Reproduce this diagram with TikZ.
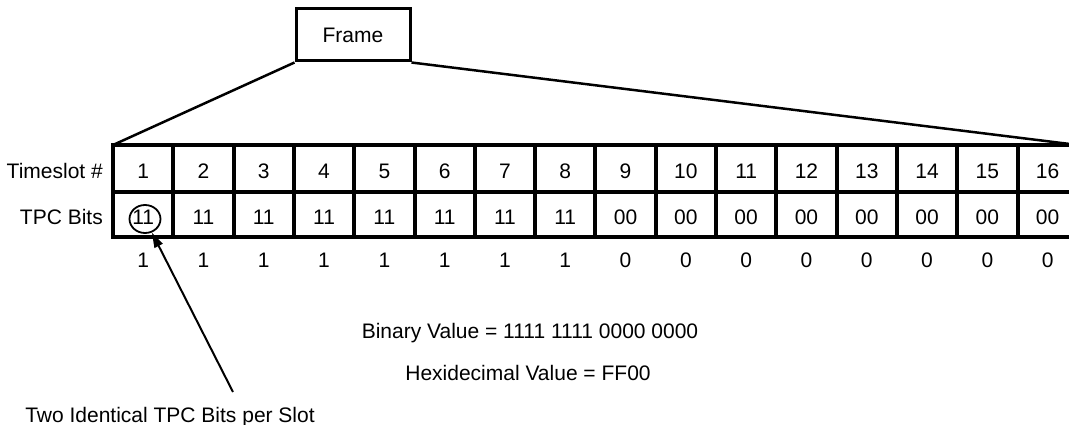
\documentclass[tikz,border=0pt]{standalone}
\usepackage{fontspec}
\setmainfont{Liberation Sans}
\usetikzlibrary{arrows.meta,positioning,shapes.geometric}

\begin{document}
\begin{tikzpicture}[x=1pt,y=-1pt,
    every node/.style={font=\fontsize{21}{25}\selectfont},
    cell/.style={draw,line width=4pt,minimum width=60.3pt,inner sep=0pt,
                 outer sep=0pt,text height=19.5pt,text depth=0pt},
    rowlabel/.style={inner sep=0pt,text height=19.5pt,text depth=0pt},
    bitval/.style={inner sep=0pt,text height=15pt,text depth=0pt}]
  \useasboundingbox (0,0) rectangle (1069,425);

  % the frame
  \node[draw,line width=3pt,minimum width=114pt,minimum height=52pt] (frame) at (353,35) {Frame};

  % timeslots of the frame
  \node[cell,minimum height=47pt] (ts1) at (143.15,168.5) {1};
  \node[cell,minimum height=45pt,below=0pt of ts1] (tpc1) {11};
  \node[bitval,below=15pt of tpc1] (val1) {1};
  \foreach \bits/\val [count=\i from 2] in {11/1,11/1,11/1,11/1,11/1,11/1,11/1,
                                            00/0,00/0,00/0,00/0,00/0,00/0,00/0,00/0} {
    \pgfmathtruncatemacro\prev{\i-1}
    \node[cell,minimum height=47pt,right=0pt of ts\prev] (ts\i) {\i};
    \node[cell,minimum height=45pt,below=0pt of ts\i] (tpc\i) {\bits};
    \node[bitval,below=15pt of tpc\i] (val\i) {\val};
  }

  \node[rowlabel,left=10pt of ts1] (tslabel) {Timeslot \#};
  \node[rowlabel,left=10pt of tpc1] (tpclabel) {TPC Bits};

  \draw[line width=2.5pt] (frame.south west) -- (ts1.north west);
  \draw[line width=2.5pt] (frame.south east) -- (ts16.north east);

  % two identical bits marked
  \node[draw,ellipse,line width=1.8pt,minimum width=31pt,minimum height=28pt] (mark) at (145,219) {};
  \coordinate (pointer) at (233,392);
  \draw[line width=2pt,-{Triangle[length=15pt,width=9pt]}] (pointer) -- (mark);
  \node[anchor=base] (note) at (170,422) {Two Identical TPC Bits per Slot};

  \node[anchor=base] (binary) at (530,338) {Binary Value = 1111 1111 0000 0000};
  \node[anchor=base] (hex) at (528,380) {Hexidecimal Value = FF00};
\end{tikzpicture}
\end{document}
